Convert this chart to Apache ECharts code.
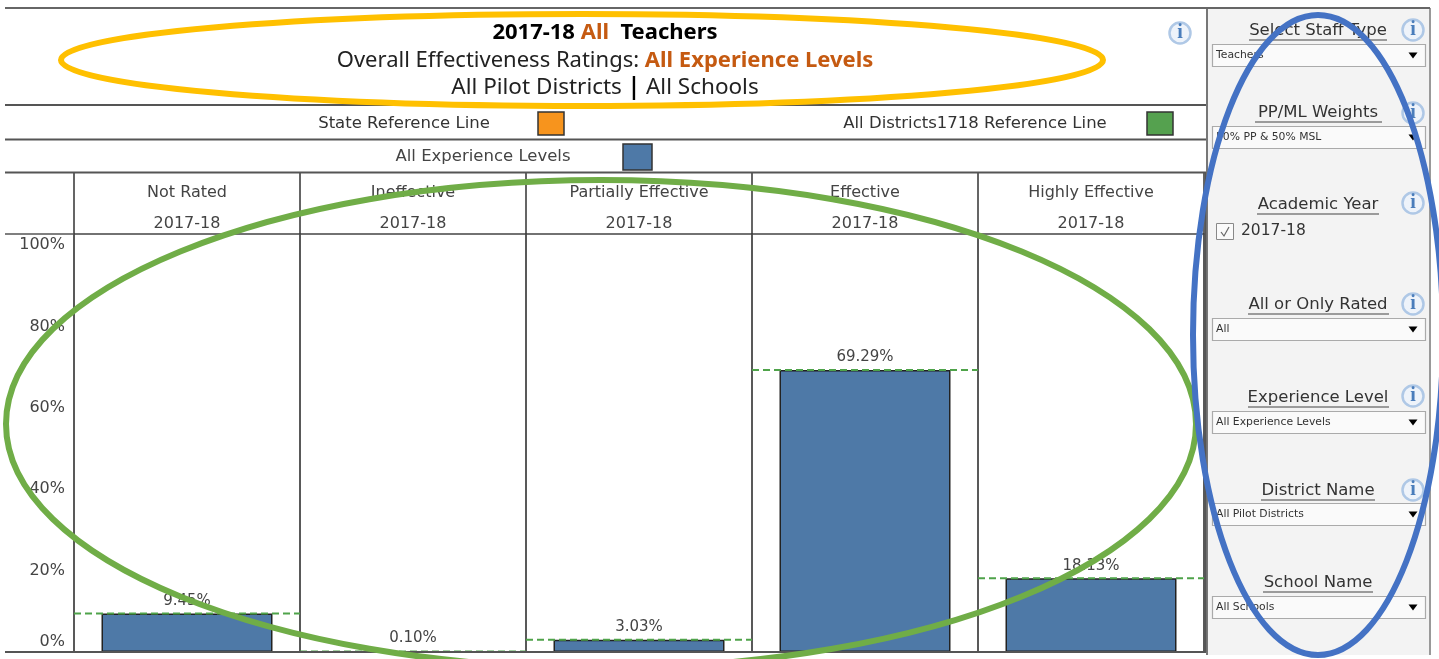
<!DOCTYPE html>
<html><head><meta charset="utf-8">
<style>html,body{margin:0;padding:0;background:#fff}#c{width:1439px;height:659px}</style>
<script src="https://cdn.jsdelivr.net/npm/echarts@6/dist/echarts.min.js"></script>
</head><body><div id="c"></div>
<script>
const categories = ['Not Rated','Ineffective','Partially Effective','Effective','Highly Effective'];
const yearLabels = ['2017-18','2017-18','2017-18','2017-18','2017-18'];
const shareValues = [9.45,0.10,3.03,69.29,18.13];
const referenceValues = [9.45,0.10,3.03,69.29,18.13];
const filterTitles = ['Select Staff Type','PP/ML Weights','Academic Year','All or Only Rated','Experience Level','District Name','School Name'];
const filterValues = ['Teachers','50% PP & 50% MSL','2017-18','All','All Experience Levels','All Pilot Districts','All Schools'];

const FONT = '"DejaVu Sans",sans-serif';
const TFONT = '"Noto Sans","Open Sans",sans-serif';
const g = [];
function hline(x1,x2,y,c,w){g.push({type:'line',shape:{x1,y1:y,x2,y2:y},style:{stroke:c||'#555',lineWidth:w||2},z:5});}
function vline(x,y1,y2,c,w){g.push({type:'line',shape:{x1:x,y1,x2:x,y2},style:{stroke:c||'#555',lineWidth:w||2},z:5});}
function txt(x,y,t,size,col,align){g.push({type:'text',x,y,z:6,style:{text:t,fontFamily:FONT,fontSize:size,fill:col||'#333',align:align||'center',verticalAlign:'middle'}});}
function info(x,y){
  g.push({type:'circle',shape:{cx:x,cy:y,r:10.5},style:{fill:'#eef3fa',stroke:'#afc8e6',lineWidth:2.5},z:6});
  g.push({type:'text',x,y,z:7,style:{text:'i',fontFamily:'"Liberation Serif",serif',fontWeight:'bold',fontSize:20,fill:'#4a7dbb',align:'center',verticalAlign:'middle'}});
}
function swatch(x,y,w,h,c){g.push({type:'rect',shape:{x,y,width:w,height:h},style:{fill:c,stroke:'#333',lineWidth:1.5},z:6});}

// sidebar
g.push({type:'rect',shape:{x:1207,y:8,width:223,height:647},style:{fill:'#f3f3f3'},z:1});
vline(1207,8,655,'#777',2);
vline(1430,8,655,'#999',2);
// frame
hline(5,1430,8,'#666',2);
hline(5,1206,105,'#555',2);
hline(5,1206,139.5,'#555',2);
hline(5,1206,172.5,'#555',2);
hline(5,74,234,'#555',1.5);
hline(5,1206,652,'#555',2);
vline(1205.5,172,652,'#555',1.5);

// title block
const rich = {
  b:{fontFamily:TFONT,fontSize:22,fontWeight:'bold',fill:'#000'},
  o:{fontFamily:TFONT,fontSize:22,fontWeight:'bold',fill:'#C55A11'},
  n:{fontFamily:TFONT,fontSize:22,fill:'#222'},
  m:{fontFamily:TFONT,fontSize:22.5,fill:'#222'},
  s:{fontFamily:TFONT,fontSize:22.5,fill:'#000',fontWeight:'bold'}
};
function rt(x,y,t){g.push({type:'text',x,y,z:6,style:{text:t,rich,align:'center',verticalAlign:'middle',fontFamily:TFONT,fontSize:22}});}
rt(605,33,'{b|2017-18 }{o|All}{b|  Teachers}');
rt(605,61,'{n|Overall Effectiveness Ratings: }{o|All Experience Levels}');
rt(605,88,'{m|All Pilot Districts }{s||}{m| All Schools}');
info(1180,33);

// legends
txt(404,124,'State Reference Line',16.5,'#333');
swatch(538,112,26,23,'#F7941D');
txt(975,124,'All Districts1718 Reference Line',16.5,'#333');
swatch(1147,112,26,23,'#55A14F');
txt(483,157,'All Experience Levels',16.5,'#444');
swatch(623,144,29,26,'#4E79A7');

// filters
const titleY=[31,113,205,305,398,491,583];
const titleX=[[1249,1387],[1255,1382],[1257,1379],[1248,1389],[1248,1389],[1261,1375],[1263,1373]];
const infoY=[30,113,203,304,396,490,null];
const boxY=[44,126,null,318,411,503,596];
filterTitles.forEach((t,i)=>{
  txt(1318,titleY[i],t,16.5,'#333');
  hline(titleX[i][0],titleX[i][1],titleY[i]+9,'#444',1.2);
  if(infoY[i]) info(1413,infoY[i]);
  if(boxY[i]!==null){
    g.push({type:'rect',shape:{x:1212.5,y:boxY[i]+.5,width:213,height:22},style:{fill:'#fafafa',stroke:'#aaa',lineWidth:1.2},z:3});
    txt(1216,boxY[i]+11,filterValues[i],10.8,'#333','left');
    g.push({type:'polygon',shape:{points:[[1408.5,boxY[i]+8.5],[1417.5,boxY[i]+8.5],[1413,boxY[i]+14.5]]},style:{fill:'#000'},z:4});
  }
});
g.push({type:'rect',shape:{x:1216.5,y:223.5,width:17,height:16},style:{fill:'#fafafa',stroke:'#888',lineWidth:1},z:3});
g.push({type:'polyline',shape:{points:[[1221,232],[1224,236],[1229,227]]},style:{stroke:'#666',lineWidth:1.2,fill:null},z:4});
txt(1241,231,filterValues[2],15.5,'#333','left');

// annotation ellipses
function ell(cx,cy,rx,ry,c){g.push({type:'ellipse',shape:{cx,cy,rx,ry},style:{fill:null,stroke:c,lineWidth:6},z:100});}
ell(582,60,521,46,'#FFC000');
ell(601,424,595,244,'#70AD47');
ell(1318,335,125,320,'#4472C4');

const chart = echarts.init(document.getElementById('c'),null,{renderer:'canvas'});
chart.setOption({
  animation:false,
  backgroundColor:'#fff',
  textStyle:{fontFamily:FONT},
  grid:{left:74,right:235,top:234,height:418,containLabel:false},
  xAxis:{
    type:'category',position:'top',data:categories,
    axisLine:{show:true,onZero:false,lineStyle:{color:'#444',width:1.5}},
    axisTick:{show:true,length:61,alignWithLabel:false,lineStyle:{color:'#333',width:1.5}},
    splitLine:{show:true,lineStyle:{color:'#222',width:1.5}},
    axisLabel:{interval:0,margin:-5,color:'#444',fontSize:16,lineHeight:31,
      formatter:(v,i)=>v+'\n'+yearLabels[i]}
  },
  yAxis:{
    type:'value',min:0,max:102.7,interval:20,
    axisLine:{show:false},axisTick:{show:false},splitLine:{show:false},
    axisLabel:{margin:9,color:'#444',fontSize:16,showMaxLabel:false,
      formatter:v=>v===0?'{z|0%}':v+'%',
      rich:{z:{fontSize:16,color:'#444',padding:[0,0,20,0]}}}
  },
  series:[
    {type:'bar',name:'All Experience Levels',data:shareValues,barWidth:171,
     itemStyle:{color:'#4E79A7',borderColor:'#222',borderWidth:1.5},
     label:{show:true,position:'top',distance:5,color:'#444',fontSize:15,formatter:p=>p.value.toFixed(2)+'%'},z:2},
    {type:'custom',name:'All Districts1718 Reference Line',
     data:referenceValues.map((v,i)=>[i,v]),encode:{x:0,y:1},z:3,
     renderItem:(params,api)=>{
       const p=api.coord([api.value(0),api.value(1)]);
       const w=api.size([1,0])[0];
       return {type:'line',shape:{x1:p[0]-w/2,y1:p[1],x2:p[0]+w/2,y2:p[1]},
         style:{stroke:'#4FA34A',lineWidth:2,lineDash:[7,4]}};
     }}
  ],
  graphic:{elements:g}
});
</script></body></html>
